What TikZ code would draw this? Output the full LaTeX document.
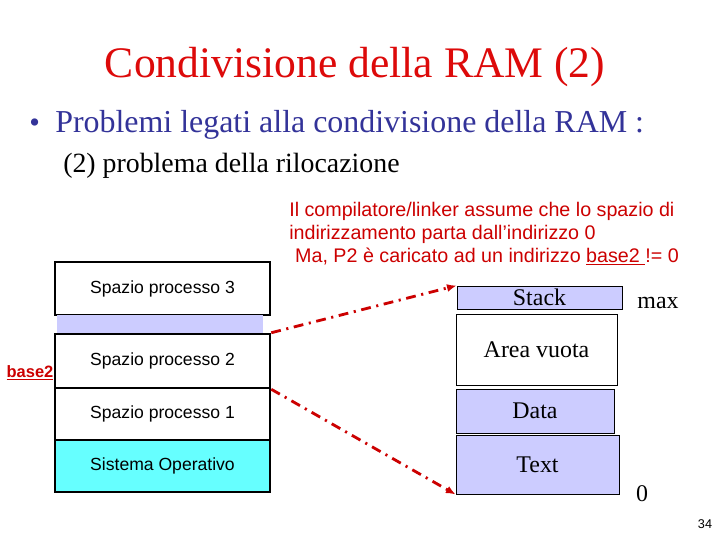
\documentclass[tikz,border=0pt]{standalone}
\usepackage{fontspec}
\setmainfont{Liberation Serif}
\setsansfont{Liberation Sans}
\usetikzlibrary{arrows.meta,positioning}
\definecolor{titlered}{HTML}{DD0A0A}
\definecolor{notered}{HTML}{CC0000}
\definecolor{bulletblue}{HTML}{333399}
\definecolor{lavender}{HTML}{CCCCFF}
\definecolor{osaqua}{HTML}{66FFFF}
\tikzset{
  membox/.style={draw=black,line width=1.8pt,fill=white,inner sep=0pt,
                 minimum width=215*0.025cm,font=\sffamily\fontsize{12.5}{15}\selectfont},
  segbox/.style={draw=black,line width=0.6pt,fill=lavender,inner sep=0pt,
                 font=\fontsize{17}{20}\selectfont},
  reloc/.style={-{Latex[length=2.4mm,width=2mm]},draw=notered,line width=2pt,
                dash pattern=on 7pt off 4pt on 1.5pt off 4pt}
}

\begin{document}
\begin{tikzpicture}[x=0.025cm,y=-0.025cm]
  \useasboundingbox[fill=white] (0,0) rectangle (720,540);
  % titolo e testo
  \node[anchor=base,text=titlered,font=\fontsize{31}{37}\selectfont] (title) at (355,77)
    {Condivisione della RAM (2)};
  \node[anchor=base west,text=bulletblue,font=\fontsize{21.5}{26}\selectfont,inner sep=0pt] (dot) at (29,132) {\textbullet};
  \node[anchor=base west,text=bulletblue,font=\fontsize{22.7}{27}\selectfont,inner sep=0pt] (problemi) at (55,132)
    {Problemi legati alla condivisione della RAM :};
  \node[anchor=base west,font=\fontsize{19.8}{24}\selectfont,inner sep=0pt] (riloc) at (63,172)
    {(2) problema della rilocazione};
  \node[anchor=north west,text=notered,align=left,inner sep=0pt,
        font=\sffamily\fontsize{14}{16.3}\selectfont] (nota) at (289,202)
    {Il compilatore/linker assume che lo spazio di\\
     indirizzamento parta dall'indirizzo 0\\
     \hspace*{0.3em}Ma, P2 è caricato ad un indirizzo \underline{base2\ }!= 0};

  % memoria fisica
  \node[membox,minimum height=53*0.025cm] (p3) at (162.5,288.5) {Spazio processo 3};
  \node[fill=lavender,inner sep=0pt,minimum width=206*0.025cm,minimum height=19*0.025cm] (libero) at (160,324.5) {};
  \node[membox,minimum height=54*0.025cm] (p2) at (162.5,361) {Spazio processo 2};
  \node[membox,minimum height=52*0.025cm] (p1) at (162.5,414) {Spazio processo 1};
  \node[membox,fill=osaqua,minimum height=52*0.025cm] (so) at (162.5,466) {Sistema Operativo};
  \node[anchor=east,text=notered,font=\sffamily\bfseries\fontsize{11.7}{14}\selectfont,inner sep=1pt] (base) at (55,373)
    {\underline{base2}};

  % spazio di indirizzamento di P2
  \node[segbox,minimum width=165*0.025cm,minimum height=23*0.025cm] (stack) at (539.5,297.5) {Stack};
  \node[segbox,fill=white,minimum width=161*0.025cm,minimum height=71*0.025cm] (vuota) at (536.5,349.5) {Area vuota};
  \node[segbox,minimum width=158*0.025cm,minimum height=44*0.025cm] (data) at (535,411) {Data};
  \node[segbox,minimum width=163*0.025cm,minimum height=59*0.025cm] (text) at (537.5,464.5) {Text};
  \node[font=\fontsize{17}{20}\selectfont] (max) at (658,303) {max};
  \node[font=\fontsize{17}{20}\selectfont] (zero) at (642,494) {0};
  \node[font=\sffamily\fontsize{9}{11}\selectfont] (pagina) at (705,524) {34};

  \draw[reloc] (p2.north east) -- (stack.north west);
  \draw[reloc] (p2.south east) -- (text.south west);
\end{tikzpicture}
\end{document}
